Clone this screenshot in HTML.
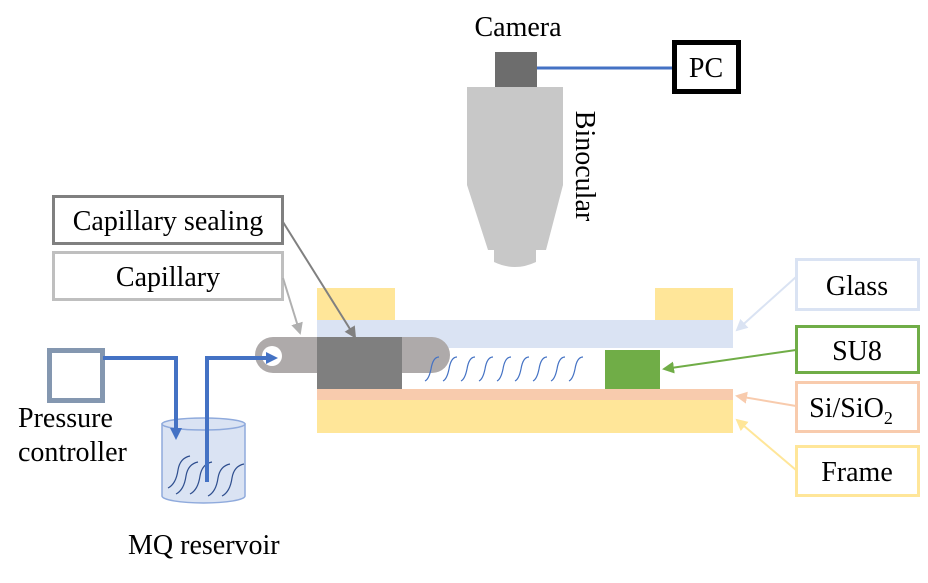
<!DOCTYPE html>
<html><head><meta charset="utf-8"><style>
body{margin:0;background:#fff}
svg text{font-family:"Liberation Serif",serif;font-size:28px;fill:#000}
</style></head><body>
<svg width="928" height="578" viewBox="0 0 928 578" xmlns="http://www.w3.org/2000/svg">
<defs>
<marker id="ab" markerWidth="12" markerHeight="12" refX="8" refY="6" orient="auto" markerUnits="userSpaceOnUse"><path d="M0,0 L12,6 L0,12z" fill="#4472c4"/></marker>
<marker id="ag" markerWidth="6" markerHeight="6" refX="5" refY="3" orient="auto" markerUnits="strokeWidth"><path d="M0,0 L6,3 L0,6z" fill="#808080"/></marker>
<marker id="al" markerWidth="6" markerHeight="6" refX="5" refY="3" orient="auto" markerUnits="strokeWidth"><path d="M0,0 L6,3 L0,6z" fill="#b0b0b0"/></marker>
<marker id="agr" markerWidth="6" markerHeight="6" refX="5" refY="3" orient="auto" markerUnits="strokeWidth"><path d="M0,0 L6,3 L0,6z" fill="#70ad47"/></marker>
<marker id="aor" markerWidth="6" markerHeight="6" refX="5" refY="3" orient="auto" markerUnits="strokeWidth"><path d="M0,0 L6,3 L0,6z" fill="#f8cbad"/></marker>
<marker id="ay" markerWidth="6" markerHeight="6" refX="5" refY="3" orient="auto" markerUnits="strokeWidth"><path d="M0,0 L6,3 L0,6z" fill="#ffe699"/></marker>
<marker id="agl" markerWidth="6" markerHeight="6" refX="5" refY="3" orient="auto" markerUnits="strokeWidth"><path d="M0,0 L6,3 L0,6z" fill="#dae3f3"/></marker>
</defs>
<text x="518" y="36" text-anchor="middle">Camera</text>
<rect x="495" y="52" width="42" height="35" fill="#6d6d6d"/>
<line x1="537" y1="68" x2="672" y2="68" stroke="#4472c4" stroke-width="3"/>
<rect x="674.5" y="42.5" width="64" height="49" fill="#fff" stroke="#000" stroke-width="5"/>
<text x="706" y="77" text-anchor="middle">PC</text>
<path d="M467,87 L563,87 L563,185 L546,250 L488,250 L467,185z" fill="#c8c8c8"/>
<path d="M494,248 L536,248 L536,262 Q515,272 494,262z" fill="#c8c8c8"/>
<text transform="translate(576,166) rotate(90)" text-anchor="middle">Binocular</text>
<rect x="53.5" y="196.5" width="229" height="47" fill="#fff" stroke="#808080" stroke-width="3"/>
<text x="168" y="230" text-anchor="middle">Capillary sealing</text>
<rect x="53.5" y="252.5" width="229" height="47" fill="#fff" stroke="#bfbfbf" stroke-width="3"/>
<text x="168" y="286" text-anchor="middle">Capillary</text>
<rect x="317" y="288" width="78" height="32" fill="#ffe699"/>
<rect x="655" y="288" width="78" height="32" fill="#ffe699"/>
<rect x="317" y="320" width="416" height="28" fill="#dae3f3"/>
<rect x="255" y="337" width="195" height="36" rx="18" fill="#aeaaaa"/>
<circle cx="272" cy="356" r="10" fill="#fff"/>
<rect x="317" y="337" width="85" height="53" fill="#7f7f7f"/>
<g fill="none" stroke="#4472c4" stroke-width="1.2">
<path d="M425,381 q4,-2 6,-12 q2,-12 8,-12"/><path d="M443,381 q4,-2 6,-12 q2,-12 8,-12"/><path d="M461,381 q4,-2 6,-12 q2,-12 8,-12"/><path d="M479,381 q4,-2 6,-12 q2,-12 8,-12"/><path d="M497,381 q4,-2 6,-12 q2,-12 8,-12"/><path d="M515,381 q4,-2 6,-12 q2,-12 8,-12"/><path d="M533,381 q4,-2 6,-12 q2,-12 8,-12"/><path d="M551,381 q4,-2 6,-12 q2,-12 8,-12"/><path d="M569,381 q4,-2 6,-12 q2,-12 8,-12"/>
</g>
<rect x="605" y="350" width="55" height="39" fill="#70ad47"/>
<rect x="317" y="389" width="416" height="11" fill="#f8cbad"/>
<rect x="317" y="400" width="416" height="33" fill="#ffe699"/>
<rect x="796.5" y="259.5" width="122" height="50" fill="#fff" stroke="#dae3f3" stroke-width="3"/>
<text x="857" y="295" text-anchor="middle">Glass</text>
<rect x="796.5" y="326.5" width="122" height="46" fill="#fff" stroke="#70ad47" stroke-width="3"/>
<text x="857" y="360" text-anchor="middle">SU8</text>
<rect x="796.5" y="382.5" width="122" height="49" fill="#fff" stroke="#f8cbad" stroke-width="3"/>
<text x="851" y="417" text-anchor="middle">Si/SiO<tspan font-size="18" dy="7">2</tspan></text>
<rect x="796.5" y="446.5" width="122" height="49" fill="#fff" stroke="#ffe699" stroke-width="3"/>
<text x="857" y="481" text-anchor="middle">Frame</text>
<line x1="283" y1="222" x2="355" y2="337" stroke="#808080" stroke-width="2" marker-end="url(#ag)"/>
<line x1="283" y1="278" x2="300" y2="333" stroke="#b0b0b0" stroke-width="2" marker-end="url(#al)"/>
<line x1="796" y1="277" x2="737" y2="330" stroke="#dae3f3" stroke-width="2" marker-end="url(#agl)"/>
<line x1="796" y1="350" x2="664" y2="369" stroke="#70ad47" stroke-width="2" marker-end="url(#agr)"/>
<line x1="796" y1="406" x2="737" y2="396" stroke="#f8cbad" stroke-width="2" marker-end="url(#aor)"/>
<line x1="796" y1="470" x2="737" y2="420" stroke="#ffe699" stroke-width="2" marker-end="url(#ay)"/>
<rect x="49.5" y="350.5" width="53" height="50" fill="#fff" stroke="#8497b0" stroke-width="5"/>
<text x="18" y="427">Pressure</text>
<text x="18" y="461">controller</text>
<path d="M162,424 L162,496 A41.5,7 0 0 0 245,496 L245,424z" fill="#dae3f3" stroke="#8faadc" stroke-width="1.5"/>
<ellipse cx="203.5" cy="424" rx="41.5" ry="6" fill="#dae3f3" stroke="#8faadc" stroke-width="1.5"/>
<g fill="none" stroke="#2f4f8f" stroke-width="1.2">
<path d="M168,488 q8,-4 10,-18 q2,-12 12,-14"/><path d="M176,494 q8,-4 10,-18 q2,-12 12,-14"/><path d="M190,494 q8,-4 10,-18 q2,-12 12,-14"/><path d="M208,496 q8,-4 10,-18 q2,-12 12,-14"/><path d="M222,496 q8,-4 10,-18 q2,-12 12,-14"/>
</g>
<polyline points="103,358 176,358 176,436" fill="none" stroke="#4472c4" stroke-width="4" marker-end="url(#ab)"/>
<polyline points="207,482 207,358 274,358" fill="none" stroke="#4472c4" stroke-width="4" marker-end="url(#ab)"/>
<text x="128" y="554">MQ reservoir</text>
</svg>
</body></html>
